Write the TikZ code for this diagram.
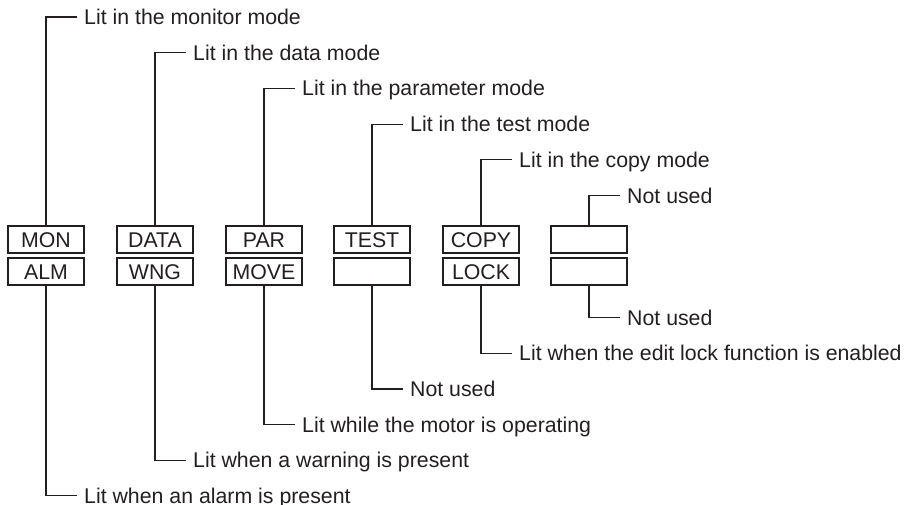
\documentclass[tikz,border=0pt]{standalone}
\usepackage{fontspec}
\setmainfont{Liberation Sans}
\definecolor{ink}{HTML}{231F20}
\begin{document}
\begin{tikzpicture}[x=1pt,y=-1pt,
  every node/.style={font=\fontsize{21.3pt}{24pt}\selectfont, text=ink},
  led/.style={draw=ink, line width=1.2pt, minimum width=76pt, minimum height=27pt, inner sep=0pt, text height=15pt, text depth=0pt},
  lbl/.style={anchor=west, inner xsep=7pt, inner ysep=0pt, text height=15pt, text depth=0pt},
  lead/.style={draw=ink, line width=1.2pt}]
\useasboundingbox (0,0) rectangle (904,504);
% boxes
\node[led] (mon)  at (46,239.5)  {MON};
\node[led] (data) at (155,239.5) {DATA};
\node[led] (par)  at (264,239.5) {PAR};
\node[led] (test) at (372,239.5) {TEST};
\node[led] (copy) at (481,239.5) {COPY};
\node[led] (b6)   at (589,239.5) {};
\node[led] (alm)  at (46,271.5)  {ALM};
\node[led] (wng)  at (155,271.5) {WNG};
\node[led] (move) at (264,271.5) {MOVE};
\node[led] (b4)   at (372,271.5) {};
\node[led] (lock) at (481,271.5) {LOCK};
\node[led] (b6b)  at (589,271.5) {};
% top labels
\node[lbl] (lmon)  at (77,17)    {Lit in the monitor mode};
\node[lbl] (ldata) at (186,52.7) {Lit in the data mode};
\node[lbl] (lpar)  at (295,88.4) {Lit in the parameter mode};
\node[lbl] (ltest) at (403,124.1) {Lit in the test mode};
\node[lbl] (lcopy) at (512,159.8) {Lit in the copy mode};
\node[lbl] (lb6)   at (620,195.5) {Not used};
% bottom labels
\node[lbl] (lalm)  at (77,495.5)  {Lit when an alarm is present};
\node[lbl] (lwng)  at (186,460.3) {Lit when a warning is present};
\node[lbl] (lmove) at (295,424.6) {Lit while the motor is operating};
\node[lbl] (lb4)   at (403,388.9) {Not used};
\node[lbl] (llock) at (512,353.2) {Lit when the edit lock function is enabled};
\node[lbl] (lb6b)  at (620,317.5) {Not used};
% leaders
\foreach \b/\l in {mon/lmon,data/ldata,par/lpar,test/ltest,copy/lcopy,b6/lb6,
                   alm/lalm,wng/lwng,move/lmove,b4/lb4,lock/llock,b6b/lb6b}
  \draw[lead] (\b) -- (\b |- \l.west) -- (\l.west);
\foreach \b in {mon,data,par,test,copy,b6,alm,wng,move,b4,lock,b6b}
  \node[led, fill=white] at (\b) {};
\node[led] at (mon) {MON};
\node[led] at (data) {DATA};
\node[led] at (par) {PAR};
\node[led] at (test) {TEST};
\node[led] at (copy) {COPY};
\node[led] at (alm) {ALM};
\node[led] at (wng) {WNG};
\node[led] at (move) {MOVE};
\node[led] at (lock) {LOCK};
\end{tikzpicture}
\end{document}
